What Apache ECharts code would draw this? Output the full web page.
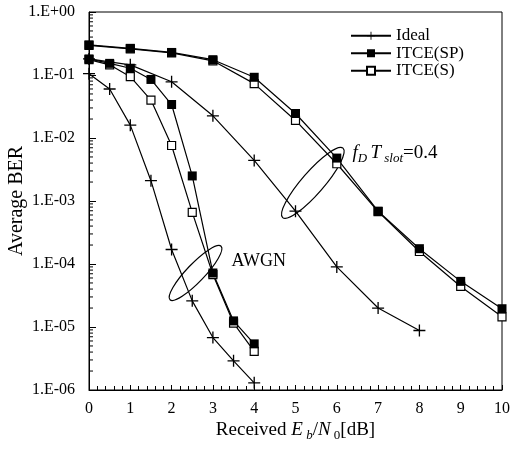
<!DOCTYPE html>
<html>
<head>
<meta charset="utf-8">
<script src="https://cdn.jsdelivr.net/npm/echarts@6/dist/echarts.min.js"></script>
<style>
  html, body { margin: 0; padding: 0; background: #fff; }
  #chart { width: 512px; height: 450px; }
</style>
</head>
<body>
<div id="chart"></div>
<script>
// Eb/N0 points
const awgnSnr = [0, 0.5, 1, 1.5, 2, 2.5, 3, 3.5, 4];
const fadingIdealSnr = [0, 1, 2, 3, 4, 5, 6, 7, 8];
const fadingSnr = [0, 1, 2, 3, 4, 5, 6, 7, 8, 9, 10];

// average BER, AWGN
const awgnIdeal = [0.105, 0.06, 0.016, 0.0021, 1.7e-4, 2.6e-5, 6.8e-6, 2.9e-6, 1.3e-6];
const awgnSP = [0.18, 0.153, 0.128, 0.085, 0.034, 0.0025, 7.2e-5, 1.25e-5, 5.4e-6];
const awgnS = [0.175, 0.145, 0.094, 0.04, 0.0076, 6.6e-4, 6.8e-5, 1.15e-5, 4.1e-6];

// average BER, fD*Tslot = 0.4
const fadingIdeal = [0.18, 0.145, 0.078, 0.0225, 0.0044, 6.9e-4, 9e-5, 2e-5, 8.8e-6];
const fadingSP = [0.3, 0.265, 0.228, 0.175, 0.092, 0.0245, 0.0048, 6.9e-4, 1.75e-4, 5.3e-5, 1.95e-5];
const fadingS = [0.295, 0.26, 0.225, 0.168, 0.073, 0.019, 0.0039, 6.8e-4, 1.58e-4, 4.4e-5, 1.45e-5];

const names = ['Ideal', 'ITCE(SP)', 'ITCE(S)'];

const font = '"Liberation Serif", "DejaVu Serif", serif';
const plus = 'path://M0,4.45H10V5.55H0Z M4.45,0H5.55V10H4.45Z';

function pairs(xs, ys) {
  return xs.map((x, i) => [x, ys[i]]);
}

function line(name, xs, ys, kind) {
  const s = {
    name: name,
    type: 'line',
    data: pairs(xs, ys),
    lineStyle: { color: '#000', width: 1.2 },
    itemStyle: { color: '#000', borderColor: '#000', borderWidth: 0 },
    showAllSymbol: true,
    emphasis: { disabled: true },
    silent: true
  };
  if (kind === 'plus') {
    s.symbol = plus;
    s.symbolSize = 12;
  } else if (kind === 'filled') {
    s.symbol = 'rect';
    s.symbolSize = 9;
  } else {
    s.symbol = 'rect';
    s.symbolSize = 8;
    s.itemStyle = { color: '#fff', borderColor: '#000', borderWidth: 1.2 };
  }
  return s;
}

function expLabel(v) {
  const e = Math.round(Math.log10(v));
  const a = Math.abs(e);
  return '1.E' + (e < 0 ? '-' : '+') + (a < 10 ? '0' : '') + a;
}

const chart = echarts.init(document.getElementById('chart'));

const rich = {
  n: { fontFamily: font, fontSize: 19, lineHeight: 24, color: '#000', fill: '#000' },
  i: { fontFamily: font, fontSize: 19, lineHeight: 24, fontStyle: 'italic', color: '#000', fill: '#000' },
  sub: { fontFamily: font, fontSize: 13, lineHeight: 12, color: '#000', fill: '#000', verticalAlign: 'bottom' },
  subi: { fontFamily: font, fontSize: 13, lineHeight: 12, fontStyle: 'italic', color: '#000', fill: '#000', verticalAlign: 'bottom' }
};

const option = {
  animation: false,
  backgroundColor: '#fff',
  grid: {
    left: 89, right: 10, top: 12, bottom: 60,
    outerBoundsMode: 'none',
    containLabel: false,
    show: true, borderColor: '#000', borderWidth: 1
  },
  legend: {
    orient: 'vertical',
    left: 345, top: 22,
    itemWidth: 40, itemHeight: 10, itemGap: 0,
    selectedMode: false,
    data: names,
    textStyle: { fontFamily: font, fontSize: 17, lineHeight: 17.5, color: '#000' }
  },
  xAxis: {
    type: 'value',
    min: 0, max: 10, interval: 1,
    name: '{n|Received }{i|E}{subi| b}{n|/}{i|N}{sub| 0}{n|[dB]}',
    nameLocation: 'middle',
    nameGap: 28,
    nameMoveOverlap: false,
    nameTextStyle: { rich: rich },
    axisLine: { lineStyle: { color: '#000', width: 1 } },
    axisTick: { inside: true, length: 5, lineStyle: { color: '#000' } },
    minorTick: { show: true, splitNumber: 5, length: 4, lineStyle: { color: '#000' } },
    axisLabel: { fontFamily: font, fontSize: 16, color: '#000', margin: 11 },
    splitLine: { show: false }
  },
  yAxis: {
    type: 'log',
    logBase: 10,
    min: 1e-6, max: 1,
    name: 'Average BER',
    nameLocation: 'middle',
    nameGap: 62,
    nameMoveOverlap: false,
    nameTextStyle: { fontFamily: font, fontSize: 20, color: '#000' },
    axisLine: { lineStyle: { color: '#000', width: 1 } },
    axisTick: { inside: true, length: 7, lineStyle: { color: '#000' } },
    axisLabel: { fontFamily: font, fontSize: 16, color: '#000', margin: 14, formatter: expLabel },
    splitLine: { show: false }
  },
  series: [
    line('Ideal', awgnSnr, awgnIdeal, 'plus'),
    line('Ideal', fadingIdealSnr, fadingIdeal, 'plus'),
    line('ITCE(S)', awgnSnr, awgnS, 'open'),
    line('ITCE(S)', fadingSnr, fadingS, 'open'),
    line('ITCE(SP)', awgnSnr, awgnSP, 'filled'),
    line('ITCE(SP)', fadingSnr, fadingSP, 'filled')
  ]
};

chart.setOption(option);

// log minor ticks on the left axis + annotations
const px = (x, y) => chart.convertToPixel({ gridIndex: 0 }, [x, y]);
const graphics = [];
for (let k = -6; k < 0; k++) {
  for (let m = 2; m <= 9; m++) {
    const p = px(0, m * Math.pow(10, k));
    graphics.push({
      type: 'line',
      shape: { x1: p[0], y1: p[1], x2: p[0] + 4, y2: p[1] },
      style: { stroke: '#000', lineWidth: 1 },
      silent: true
    });
  }
}

const awgnC = px(2.58, 7.2e-5);
const fadC = px(5.42, 1.94e-3);
graphics.push({
  type: 'ellipse', x: awgnC[0], y: awgnC[1], rotation: 46.4 * Math.PI / 180,
  shape: { cx: 0, cy: 0, rx: 37, ry: 9 },
  style: { fill: null, stroke: '#000', lineWidth: 1.2 }, silent: true
});
graphics.push({
  type: 'ellipse', x: fadC[0], y: fadC[1], rotation: 49 * Math.PI / 180,
  shape: { cx: 0, cy: 0, rx: 46, ry: 11 },
  style: { fill: null, stroke: '#000', lineWidth: 1.2 }, silent: true
});

const awgnT = px(3.45, 1.12e-4);
graphics.push({
  type: 'text', x: awgnT[0], y: awgnT[1], silent: true,
  style: { text: 'AWGN', fontFamily: font, fontSize: 18, fill: '#000', verticalAlign: 'middle' }
});
const fadT = px(6.38, 5.8e-3);
graphics.push({
  type: 'text', x: fadT[0], y: fadT[1], silent: true,
  style: {
    text: '{i|f}{subi|D }{i|T}{subi| slot}{n|=0.4}',
    verticalAlign: 'middle',
    rich: rich
  }
});

chart.setOption({ graphic: graphics });
</script>
</body>
</html>
